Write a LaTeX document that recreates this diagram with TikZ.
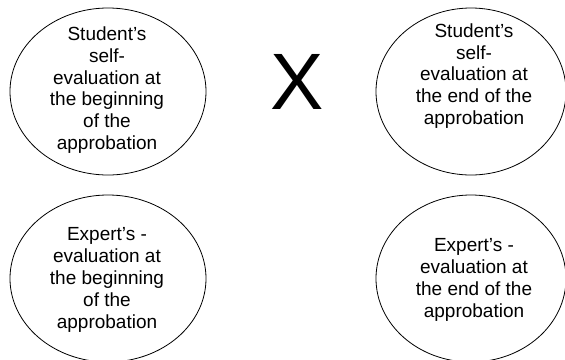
\documentclass[tikz,border=0pt]{standalone}
\usepackage{fontspec}
\setmainfont{Liberation Sans}
\usetikzlibrary{shapes.geometric}
\begin{document}
\begin{tikzpicture}[x=1pt,y=-1pt,
  oval/.style={draw=black,line width=0.8pt,ellipse,inner sep=0pt},
  lbl/.style={align=center,inner sep=0pt,font=\fontsize{19}{21.8}\selectfont}]
\useasboundingbox (0,0) rectangle (565,359);
\clip (0,0) rectangle (565,359);
\node[oval,minimum width=196pt,minimum height=167pt] (e1) at (108,91.5) {};
\node[oval,minimum width=190pt,minimum height=167pt] (e2) at (471,91.5) {};
\node[oval,minimum width=196pt,minimum height=167pt] (e3) at (108,278.5) {};
\node[oval,minimum width=190pt,minimum height=167pt] (e4) at (471,278.5) {};
\node[lbl] (t1) at (107,90) {Student’s\\self-\\evaluation at\\the beginning\\of the\\approbation};
\node[lbl] (t2) at (474,76) {Student’s\\self-\\evaluation at\\the end of the\\approbation};
\node[lbl] (t3) at (107,280) {Expert’s -\\evaluation at\\the beginning\\of the\\approbation};
\node[lbl] (t4) at (474,280) {Expert’s -\\evaluation at\\the end of the\\approbation};
\node[inner sep=0pt,font=\fontsize{80}{80}\selectfont] (x) at (297,82) {X};
\end{tikzpicture}
\end{document}
